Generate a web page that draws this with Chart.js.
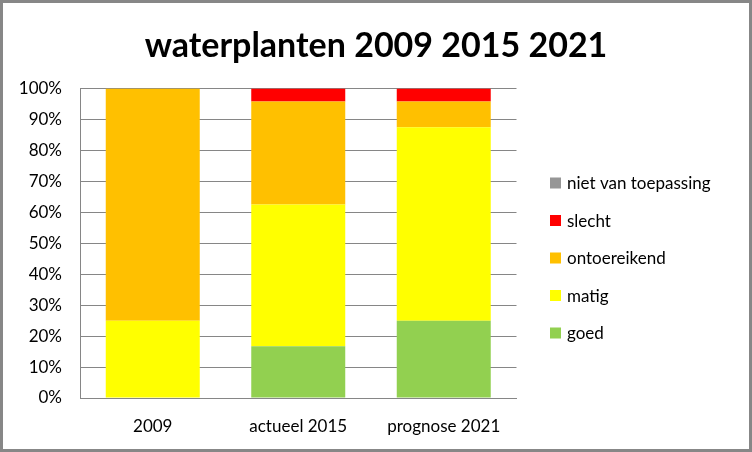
<!DOCTYPE html>
<html>
<head>
<meta charset="utf-8">
<title>waterplanten 2009 2015 2021</title>
<script src="https://cdn.jsdelivr.net/npm/chart.js@4/dist/chart.umd.min.js"></script>
<style>
  html, body { margin: 0; padding: 0; background: #fff; }
  #wrap { position: relative; width: 752px; height: 452px; }
</style>
</head>
<body>
<div id="wrap"><canvas id="chart" width="752" height="452"></canvas></div>
<script>
/* ── Data (percent of waterbodies per class) ── */
const categories = ['2009', 'actueel 2015', 'prognose 2021'];
const goed          = [0,    16.7, 25.0];
const matig         = [25.0, 45.8, 62.5];
const ontoereikend  = [75.0, 33.3,  8.3];
const slecht        = [0,     4.2,  4.2];
const nietVanToep   = [0,     0,    0];
const yTicks        = [0, 10, 20, 30, 40, 50, 60, 70, 80, 90, 100];

const TITLE = 'waterplanten 2009 2015 2021';
const FONT = 'Lato, "Noto Sans", sans-serif';
const GRID = '#868686';

/* ── Frame, centred title + custom legend ── */
const framePlugin = {
  id: 'frame',
  beforeDraw(chart) {
    const { ctx, width, height } = chart;
    ctx.save();
    ctx.fillStyle = '#fff';
    ctx.fillRect(0, 0, width, height);
    ctx.restore();
  },
  afterDraw(chart) {
    const { ctx, width, height, chartArea } = chart;
    ctx.save();
    ctx.strokeStyle = '#878787';
    ctx.lineWidth = 3;
    ctx.strokeRect(1.5, 1.5, width - 3, height - 3);

    // title over the whole canvas width
    ctx.fillStyle = '#000';
    ctx.font = 'bold 34px ' + FONT;
    ctx.textAlign = 'center';
    ctx.textBaseline = 'middle';
    ctx.fillText(TITLE, width / 2, 46);

    // legend, top entry = last dataset
    const sets = chart.data.datasets.slice().reverse();
    const boxX = chartArea.right + 33.5;
    ctx.font = '17px ' + FONT;
    ctx.textAlign = 'left';
    sets.forEach((ds, i) => {
      const y = chartArea.top + 94.5 + i * 37.5;
      ctx.fillStyle = ds.backgroundColor;
      ctx.fillRect(boxX, y - 5.5, 11, 11);
      ctx.fillStyle = '#000';
      ctx.fillText(ds.label, boxX + 17, y + 1);
    });
    ctx.restore();
  }
};

const ds = (label, data, color) => ({
  label, data, backgroundColor: color,
  borderWidth: 0, barPercentage: 0.646, categoryPercentage: 1
});

new Chart(document.getElementById('chart').getContext('2d'), {
  type: 'bar',
  data: {
    labels: categories,
    datasets: [
      ds('goed', goed, '#92D050'),
      ds('matig', matig, '#FFFF00'),
      ds('ontoereikend', ontoereikend, '#FFC000'),
      ds('slecht', slecht, '#FF0000'),
      ds('niet van toepassing', nietVanToep, '#969696')
    ]
  },
  options: {
    responsive: false,
    animation: false,
    devicePixelRatio: 1,
    layout: { padding: { left: 0, right: 235.5, top: 88.5, bottom: 0 } },
    plugins: {
      legend: { display: false },
      tooltip: { enabled: false },
      title: { display: false }
    },
    scales: {
      x: {
        stacked: true,
        grid: { display: false, drawTicks: false },
        border: { display: true, color: GRID, width: 1 },
        ticks: { color: '#000', font: { family: FONT, size: 17 }, padding: 18 },
        afterFit: s => { s.height = 54; }
      },
      y: {
        stacked: true,
        min: 0, max: 100,
        afterBuildTicks: s => { s.ticks = yTicks.map(v => ({ value: v })); },
        grid: { color: GRID, lineWidth: 1, drawTicks: false },
        border: { display: true, color: GRID, width: 1 },
        ticks: { color: '#000', font: { family: FONT, size: 17 }, padding: 18,
                 callback: v => v + '%' },
        afterFit: s => { s.width = 80; }
      }
    }
  },
  plugins: [framePlugin]
});
</script>
</body>
</html>
